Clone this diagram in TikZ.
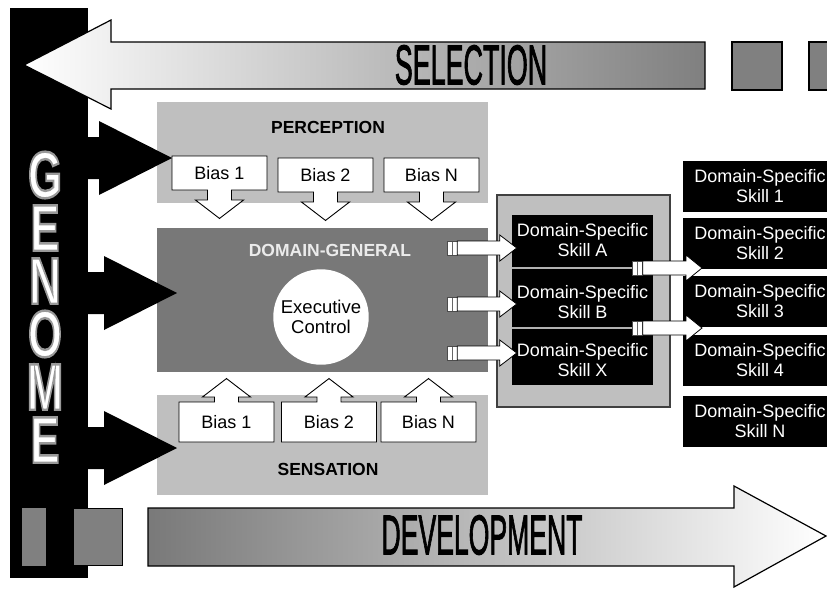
\documentclass[tikz,border=0pt]{standalone}
\usepackage{fontspec}
\setmainfont{Liberation Sans}
\usepackage{graphicx}
\usetikzlibrary{calc,shapes.arrows}

\definecolor{lightbox}{gray}{0.75}
\definecolor{darkbox}{gray}{0.47}
\definecolor{plate}{gray}{0.5}

% style, from, to, half shaft, half head, head length
\newcommand{\fatarrow}[6]{%
  \path[#1] let \p1=(#2), \p2=(#3) in
    (\x1,\y1+#4) -- (\x2-#6,\y1+#4) -- (\x2-#6,\y1+#5) -- (\x2,\y1)
    -- (\x2-#6,\y1-#5) -- (\x2-#6,\y1-#4) -- (\x1,\y1-#4) -- cycle;}
% letters with a stroked rim: width, grey level, text
\newcommand{\rimmed}[3]{\special{pdf:literal direct 2 Tr #1 w #2 G}#3\special{pdf:literal direct 0 Tr}}

\tikzset{
  area/.style={fill=lightbox, minimum width=331pt, inner sep=0pt},
  areatitle/.style={font=\fontsize{17.5}{20}\selectfont\bfseries},
  biasbox/.style={arrow box, draw, fill=white, line width=.9pt, inner sep=0pt,
    minimum width=95pt, font=\fontsize{18}{20}\selectfont,
    arrow box shaft width=24pt, arrow box head extend=12pt, arrow box tip angle=105},
  biasdown/.style={biasbox, minimum height=34pt, arrow box arrows={south:28pt}},
  biasup/.style={biasbox, minimum height=40pt, arrow box arrows={north:23pt}},
  skill/.style={align=center, text=white, inner sep=0pt, font=\fontsize{18}{20}\selectfont},
  skillcol/.style={skill, fill=black, minimum width=154pt, minimum height=51pt},
  plug/.style={draw=black!70, fill=white, minimum width=10pt, minimum height=14pt, inner sep=0pt,
    path picture={\draw[black!60] (path picture bounding box.north) -- (path picture bounding box.south);}},
  whitearrow/.style={draw, fill=white, line width=.8pt},
  blackarrow/.style={fill=black},
  bigword/.style={font=\fontsize{56}{56}\selectfont},
  genomeletter/.style={font=\fontsize{66}{66}\selectfont\bfseries, text=white, inner sep=0pt}
}

\begin{document}
\begin{tikzpicture}[x=1pt,y=-1pt]
  \fill[white] (0,0) rectangle (827,589);
  \useasboundingbox (0,0) rectangle (827,589);

  % genome bar
  \node[fill=black, minimum width=78pt, minimum height=570pt, inner sep=0pt] (genome) at (49,293) {};
  \foreach \ch [count=\i from 0] in {G,E,N,O,M,E}
    \node[genomeletter] (letter\i) at (45,175+53*\i) {\scalebox{0.66}[1]{\rimmed{2.4}{0.6}{\ch}}};

  % selection
  \draw[line width=1.2pt, left color=white, right color=plate]
    (705,42) -- (111,42) -- (111,20) -- (24,65) -- (111,109) -- (111,89) -- (705,89) -- cycle;
  \node[bigword] (selection) at (471,65) {\scalebox{0.48}[1]{\rimmed{1.2}{0}{SELECTION}}};
  \draw[line width=1.2pt, fill=plate] (732,42) rectangle (782,90) (809,42) rectangle (860,90);

  % the three levels
  \node[area, minimum height=101pt] (perception) at (322.5,152.5) {};
  \node[area, minimum height=144pt, fill=darkbox] (general) at (322.5,300) {};
  \node[area, minimum height=100pt] (sensation) at (322.5,445) {};
  \node[areatitle] (perceptiontitle) at (328,127) {PERCEPTION};
  \node[areatitle, text=white!92!black] (generaltitle) at (330,250) {DOMAIN-GENERAL};
  \node[areatitle] (sensationtitle) at (328,469) {SENSATION};

  \foreach \i/\y/\tx in {1/158/172, 2/293/177, 3/448/177} {
    \coordinate (gs\i) at (88,\y);
    \coordinate (gt\i) at (\tx,\y);
    \fatarrow{blackarrow}{gs\i}{gt\i}{21pt}{37pt}{73pt}
  }

  \foreach \n/\x/\y in {1/219.5/173, 2/325.5/175, N/431.5/175}
    \node[biasdown] (bias\n p) at (\x,\y) {Bias \n};
  \foreach \n/\x in {1/226.5, 2/329, N/428.5}
    \node[biasup] (bias\n s) at (\x,422) {Bias \n};

  \node[circle, fill=white, minimum size=90pt, align=center,
    font=\fontsize{18.5}{20}\selectfont] (executive) at (321,317) {Executive\\Control};

  % domain-specific skills
  \node[draw=black!75, line width=1.5pt, fill=lightbox, minimum width=173pt,
    minimum height=212pt] (skillframe) at (583.5,301) {};
  \node[fill=black, minimum width=141pt, minimum height=170pt, inner sep=0pt] (skillstack) at (582.5,300) {};
  \node[skill] (skillA) at (582.5,240) {Domain-Specific\\Skill A};
  \node[skill] (skillB) at (582.5,302) {Domain-Specific\\Skill B};
  \node[skill] (skillX) at (582.5,360) {Domain-Specific\\Skill X};

  \node[plug] (plugA) at (452,248) {};
  \node[plug] (plugB) at (452,304) {};
  \node[plug] (plugX) at (452,353) {};
  \fatarrow{whitearrow}{plugA.east}{skillA.west}{7pt}{13pt}{17pt}
  \fatarrow{whitearrow}{plugB.east}{skillB.west}{7pt}{13pt}{17pt}
  \fatarrow{whitearrow}{plugX.east}{skillX.west}{7pt}{13pt}{17pt}

  \foreach \n/\y in {1/186, 2/243, 3/301, 4/360, N/421}
    \node[skillcol] (skill\n) at (760,\y) {Domain-Specific\\Skill \n};

  \node[plug] (plug1) at (637.5,268) {};
  \node[plug] (plug2) at (637.5,328) {};
  \draw[line width=2pt, white!70!black] (skillstack.west |- plug1) -- (plug1.west);
  \draw[line width=2pt, white!70!black] (skillstack.west |- plug2) -- (plug2.west);
  \coordinate (r1) at (702,268);
  \coordinate (r2) at (702,328);
  \fatarrow{whitearrow}{plug1.east}{r1}{7pt}{13pt}{16pt}
  \fatarrow{whitearrow}{plug2.east}{r2}{7pt}{13pt}{16pt}

  % development
  \draw[line width=1.2pt, left color=plate!95!black, right color=white]
    (148,508) -- (734,508) -- (734,486) -- (826,536) -- (734,587) -- (734,566) -- (148,566) -- cycle;
  \node[bigword] (development) at (482,535) {\scalebox{0.475}[1]{\rimmed{1.2}{0}{DEVELOPMENT}}};
  \draw[fill=plate, draw=gray] (22,508) rectangle (45,565);
  \draw[fill=plate, line width=1pt] (73,508) rectangle (122,565);
\end{tikzpicture}
\end{document}
